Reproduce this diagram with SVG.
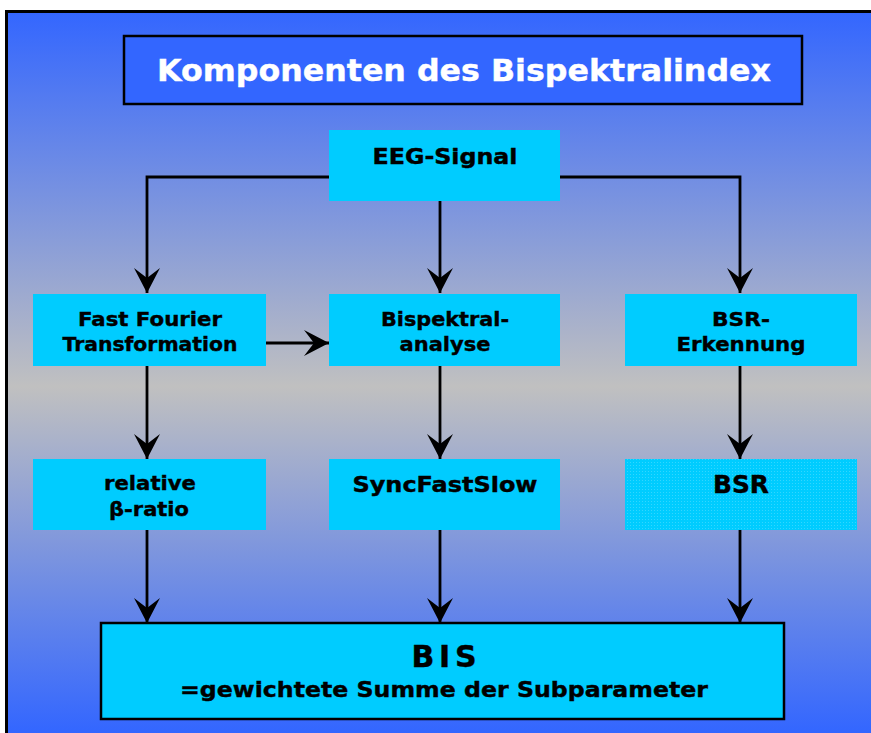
<svg xmlns="http://www.w3.org/2000/svg" width="871" height="733" viewBox="0 0 871 733">
<defs>
<linearGradient id="bg" x1="0" y1="11" x2="0" y2="733" gradientUnits="userSpaceOnUse">
<stop offset="0" stop-color="#3366FF"/>
<stop offset="0.52" stop-color="#C0C0C0"/>
<stop offset="1" stop-color="#3366FF"/>
</linearGradient>
<marker id="ah" viewBox="0 0 25 26" refX="25" refY="13" markerWidth="25" markerHeight="26" markerUnits="userSpaceOnUse" orient="auto">
<path d="M0,0 L25,13 L0,26 L10,13 Z" fill="#000"/>
</marker>
<pattern id="dots" width="3" height="3" patternUnits="userSpaceOnUse">
<rect width="3" height="3" fill="#00CCFF"/>
<rect width="1" height="1" fill="#33D6FF"/>
</pattern>
</defs>
<style>
.box{fill:#00CCFF}
.t{font-family:"DejaVu Sans",Verdana,sans-serif;font-weight:bold;font-size:20px;fill:#000;stroke:#000;stroke-width:0.4;text-anchor:middle}
.c{stroke:#000;stroke-width:2.8;fill:none}
</style>
<rect width="871" height="733" fill="#fff"/>
<rect x="6.5" y="11.5" width="880" height="740" fill="url(#bg)" stroke="#000" stroke-width="3"/>
<g id="title">
<rect x="124" y="36" width="678" height="68" fill="#3366FF" stroke="#000" stroke-width="2.5"/>
<text x="464" y="81" class="t" style="fill:#fff;stroke:#fff;font-size:30px" textLength="614" lengthAdjust="spacingAndGlyphs">Komponenten des Bispektralindex</text>
</g>
<g id="connectors">
<path class="c" d="M329,177 H147 V293" marker-end="url(#ah)"/>
<path class="c" d="M560,177 H740 V293" marker-end="url(#ah)"/>
<path class="c" d="M440,200 V293" marker-end="url(#ah)"/>
<path class="c" d="M266,343 H329" marker-end="url(#ah)"/>
<path class="c" d="M147,366 V459" marker-end="url(#ah)"/>
<path class="c" d="M440,366 V459" marker-end="url(#ah)"/>
<path class="c" d="M740,366 V459" marker-end="url(#ah)"/>
<path class="c" d="M147,530 V623" marker-end="url(#ah)"/>
<path class="c" d="M440,530 V623" marker-end="url(#ah)"/>
<path class="c" d="M740,530 V623" marker-end="url(#ah)"/>
</g>
<g id="eeg">
<rect class="box" x="329" y="130" width="231" height="71"/>
<text class="t" x="445" y="164" style="font-size:21px" textLength="145" lengthAdjust="spacingAndGlyphs">EEG-Signal</text>
</g>
<g id="fft">
<rect class="box" x="33" y="294" width="233" height="72"/>
<text class="t" x="150" y="326" textLength="144" lengthAdjust="spacingAndGlyphs">Fast Fourier</text>
<text class="t" x="150" y="351" textLength="175" lengthAdjust="spacingAndGlyphs">Transformation</text>
</g>
<g id="bispektral">
<rect class="box" x="329" y="294" width="231" height="72"/>
<text class="t" x="445" y="326" textLength="128" lengthAdjust="spacingAndGlyphs">Bispektral-</text>
<text class="t" x="445" y="351" textLength="91" lengthAdjust="spacingAndGlyphs">analyse</text>
</g>
<g id="bsr-erkennung">
<rect class="box" x="625" y="294" width="232" height="72"/>
<text class="t" x="741" y="326" textLength="58" lengthAdjust="spacingAndGlyphs">BSR-</text>
<text class="t" x="741" y="351" textLength="129" lengthAdjust="spacingAndGlyphs">Erkennung</text>
</g>
<g id="beta">
<rect class="box" x="33" y="459" width="233" height="71"/>
<text class="t" x="150" y="490" textLength="92" lengthAdjust="spacingAndGlyphs">relative</text>
<text class="t" x="149" y="516" textLength="80" lengthAdjust="spacingAndGlyphs">β-ratio</text>
</g>
<g id="sync">
<rect class="box" x="329" y="459" width="231" height="71"/>
<text class="t" x="445" y="492" style="font-size:21px" textLength="185" lengthAdjust="spacingAndGlyphs">SyncFastSlow</text>
</g>
<g id="bsr">
<rect x="625" y="459" width="232" height="71" fill="url(#dots)"/>
<text class="t" x="741" y="493" style="font-size:24px" textLength="56" lengthAdjust="spacingAndGlyphs">BSR</text>
</g>
<g id="bis">
<rect class="box" x="101" y="623" width="683" height="96" stroke="#000" stroke-width="2.5"/>
<text class="t" x="444" y="667" style="font-size:30px" textLength="65" lengthAdjust="spacing">BIS</text>
<text class="t" x="444" y="697" style="font-size:22px" textLength="528" lengthAdjust="spacingAndGlyphs">=gewichtete Summe der Subparameter</text>
</g>
</svg>
